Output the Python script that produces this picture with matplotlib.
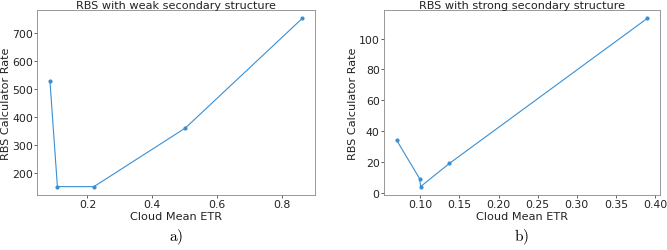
import matplotlib
matplotlib.use("Agg")
import matplotlib.pyplot as plt

weak_etr = [0.084, 0.107, 0.220, 0.503, 0.864]
weak_rate = [527, 152, 152, 361, 751]
strong_etr = [0.0697, 0.0992, 0.1002, 0.137, 0.390]
strong_rate = [34, 9, 4, 19, 113]

titles = ["RBS with weak secondary structure", "RBS with strong secondary structure"]
panel_labels = ["a)", "b)"]
xlabel = "Cloud Mean ETR"
ylabel = "RBS Calculator Rate"

plt.rcParams['mathtext.fontset'] = 'cm'
fig = plt.figure(figsize=(6.67, 2.51), dpi=100)
axes = [fig.add_axes([0.056, 0.219, 0.416, 0.737]),
        fig.add_axes([0.576, 0.219, 0.413, 0.737])]
color = '#3a8fd2'
data = [(weak_etr, weak_rate), (strong_etr, strong_rate)]
fs = 8.1
tfs = 7.8
for ax, (x, y), t, pl in zip(axes, data, titles, panel_labels):
    ax.plot(x, y, '-o', color=color, lw=0.8, ms=2)
    ax.set_title(t, fontsize=fs, pad=1.5, color='#222222')
    ax.set_xlabel(xlabel, fontsize=fs, labelpad=1, color='#222222')
    ax.set_ylabel(ylabel, fontsize=fs, labelpad=0.5, color='#222222')
    ax.tick_params(labelsize=tfs, length=2, width=0.5, pad=1.2, colors='#222222')
    for s in ax.spines.values():
        s.set_color('#888888')
        s.set_linewidth(0.6)
    cx = ax.get_position().x0 + ax.get_position().width / 2
    fig.text(cx, 0.055, r'$\mathrm{' + pl + '}$', fontsize=11, ha='center', va='center')

axes[1].set_xticks([0.10, 0.15, 0.20, 0.25, 0.30, 0.35, 0.40])
axes[1].set_yticks([0, 20, 40, 60, 80, 100])
axes[0].set_xticks([0.2, 0.4, 0.6, 0.8])
axes[0].set_yticks([200, 300, 400, 500, 600, 700])

fig.savefig("out.png", dpi=100)
